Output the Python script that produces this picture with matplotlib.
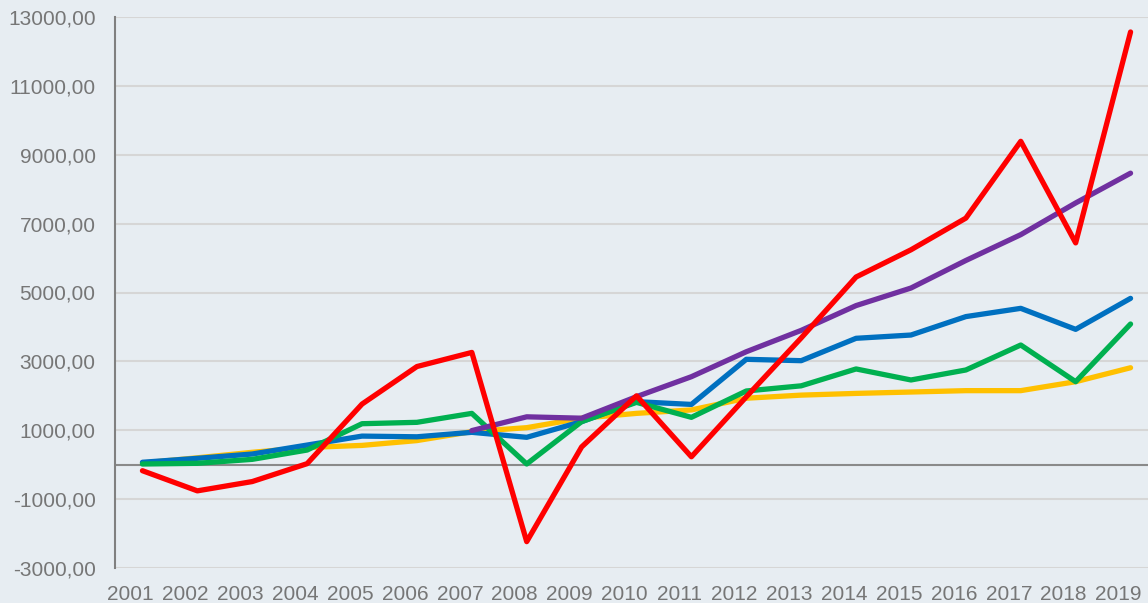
import numpy as np
import matplotlib
matplotlib.use("Agg")
import matplotlib.pyplot as plt
from matplotlib.transforms import ScaledTranslation

years = list(range(2001, 2020))
year_labels = [str(y) for y in years]

# valori
yellow = [50, 200, 360, 500, 560, 700, 960, 1075, 1350, 1490, 1590, 1930,
          2020, 2070, 2110, 2150, 2150, 2410, 2815]
blue = [70, 185, 310, 570, 830, 810, 940, 795, 1250, 1830, 1750, 3060,
        3020, 3670, 3765, 4300, 4540, 3930, 4830]
green = [20, 40, 155, 425, 1190, 1230, 1490, 20, 1250, 1810, 1375, 2140,
         2290, 2780, 2460, 2750, 3475, 2410, 4085]
purple = [None] * 6 + [990, 1390, 1350, 1975, 2555, 3280,
                       3900, 4620, 5130, 5930, 6680, 7600, 8465]
red = [-175, -760, -490, 30, 1760, 2850, 3260, -2235, 515, 2000, 230, 1970,
       3680, 5450, 6240, 7160, 9390, 6440, 12565]

y_ticks = list(range(-3000, 13001, 2000))

series = [
    (yellow, "#FFC000"),
    (blue, "#0070C0"),
    (green, "#00B050"),
    (purple, "#7030A0"),
    (red, "#FF0000"),
]

plt.rcParams['font.family'] = ['Liberation Sans', 'DejaVu Sans']

fig = plt.figure(figsize=(11.48, 6.03), dpi=100)
fig.patch.set_facecolor("#E7EDF2")
ax = fig.add_axes([115 / 1148, 1 - 568 / 603, (1158 - 115) / 1148, (568 - 17) / 603])
ax.set_facecolor("none")

x = np.arange(len(years))
for vals, col in series:
    v = np.array([np.nan if a is None else a for a in vals], dtype=float)
    ax.plot(x, v, color=col, lw=3.8, solid_capstyle="round", solid_joinstyle="round", zorder=3)

ax.set_xlim(-0.5, len(years) - 0.5)
ax.set_ylim(-3000, 13000)
ax.set_yticks(y_ticks)
ax.set_yticklabels([f"{t},00" for t in y_ticks])
ax.set_xticks(x)
ax.set_xticklabels(year_labels)
ax.grid(axis="y", color="#D6D6D6", lw=1.5, zorder=1)
ax.axhline(0, color="#8A8A8A", lw=1.5, zorder=2)

for s in ["top", "right", "bottom"]:
    ax.spines[s].set_visible(False)
ax.spines["left"].set_color("#808080")
ax.spines["left"].set_linewidth(1.5)
ax.tick_params(length=0, labelsize=15, colors="#767676")
ax.tick_params(axis="y", pad=14)
ax.tick_params(axis="x", pad=12)

# etichette anni spostate un po' a sinistra come nell'originale
shift = ScaledTranslation(-12 / 100, 0, fig.dpi_scale_trans)
for lab in ax.get_xticklabels():
    lab.set_transform(lab.get_transform() + shift)

fig.savefig("out.png", dpi=100, facecolor=fig.get_facecolor())
